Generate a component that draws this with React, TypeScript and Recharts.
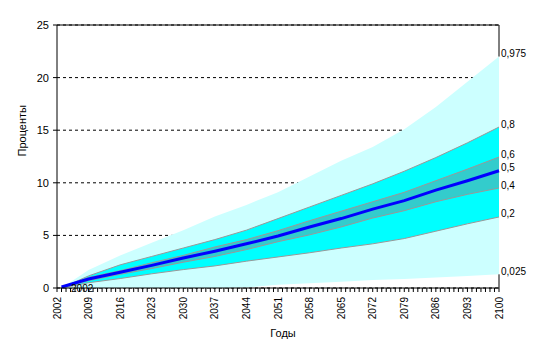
import React from "react";
import {
  ComposedChart,
  Area,
  Line,
  XAxis,
  YAxis,
  CartesianGrid,
  ReferenceLine,
  ReferenceDot,
} from "recharts";

// годы, на которые сняты значения квантилей
const years = [2003, 2009, 2016, 2023, 2030, 2037, 2044, 2051, 2058, 2065, 2072, 2079, 2086, 2093, 2100];

const q025 = [0, 0, 0, 0, 0, 0, 0.05, 0.3, 0.45, 0.6, 0.75, 0.85, 1.0, 1.15, 1.3];
const q20 = [0, 0.5, 0.9, 1.35, 1.75, 2.1, 2.55, 2.95, 3.35, 3.8, 4.2, 4.7, 5.4, 6.1, 6.75];
const q40 = [0, 0.7, 1.3, 1.85, 2.45, 3.0, 3.65, 4.4, 5.05, 5.8, 6.65, 7.35, 8.2, 8.9, 9.5];
const q50 = [0.1, 0.85, 1.5, 2.15, 2.85, 3.5, 4.2, 4.95, 5.8, 6.6, 7.5, 8.3, 9.3, 10.2, 11.15];
const q60 = [0, 1.0, 1.65, 2.4, 3.1, 3.9, 4.6, 5.45, 6.4, 7.3, 8.2, 9.1, 10.2, 11.3, 12.45];
const q80 = [0, 1.15, 2.2, 3.0, 3.8, 4.6, 5.5, 6.6, 7.7, 8.8, 9.9, 11.1, 12.4, 13.8, 15.3];
const q975 = [0, 1.7, 3.1, 4.3, 5.5, 6.8, 7.9, 9.1, 10.6, 12.1, 13.4, 15.1, 17.2, 19.6, 22.0];

const quantileNames = ["0,975", "0,8", "0,6", "0,5", "0,4", "0,2", "0,025"];
const yTicks = [0, 5, 10, 15, 20, 25];

const FIRST_YEAR = 2002;
const LAST_YEAR = 2100;
const Y_MAX = 25;
const allYears = Array.from({ length: LAST_YEAR - FIRST_YEAR + 1 }, (_, i) => FIRST_YEAR + i);

const data = years.map((year, i) => ({
  year,
  outer: [q025[i], q975[i]],
  mid: [q20[i], q80[i]],
  inner: [q40[i], q60[i]],
  median: q50[i],
}));

const last = years.length - 1;
const endValues = [q975[last], q80[last], q60[last], q50[last], q40[last], q20[last], q025[last]];

const FONT = "'Liberation Sans', Arial, sans-serif";

function YearTick({ x, y, payload }: any) {
  const year = payload.value;
  if ((year - FIRST_YEAR) % 7 !== 0) return null;
  return (
    <text
      x={x}
      y={y}
      transform={`rotate(-90, ${x}, ${y})`}
      textAnchor="end"
      dy="0.35em"
      fontSize={10}
      fontFamily={FONT}
      fill="#000"
    >
      {year}
    </text>
  );
}

function QuantileLabel({ viewBox, value }: any) {
  const { x, y } = viewBox;
  return (
    <text x={x + 2} y={y - 3} dy="0.35em" textAnchor="start" fontSize={10} fontFamily={FONT} fill="#000">
      {value}
    </text>
  );
}

export default function App() {
  return (
    <div style={{ position: "absolute", left: 0, top: 0, background: "#fff" }}>
      <ComposedChart
        width={552}
        height={360}
        data={data}
        margin={{ top: 25, right: 53, bottom: 30, left: 0 }}
      >
        <CartesianGrid vertical={false} stroke="#000" strokeDasharray="3 3" />
        <XAxis
          dataKey="year"
          type="number"
          domain={[FIRST_YEAR, LAST_YEAR]}
          ticks={allYears}
          interval={0}
          tick={<YearTick />}
          tickSize={4}
          tickMargin={5}
          height={42}
          stroke="#000"
          label={{ value: "Годы", position: "insideBottom", offset: -7, fontSize: 11, fontFamily: FONT, fill: "#000", dx: 5 }}
        />
        <YAxis
          domain={[0, Y_MAX]}
          ticks={yTicks}
          width={57}
          tickSize={4}
          tickMargin={4}
          stroke="#000"
          tick={{ fontSize: 11, fontFamily: FONT, fill: "#000" }}
          label={{ value: "Проценты", angle: -90, position: "insideLeft", offset: 22, fontSize: 11, fontFamily: FONT, fill: "#000" }}
        />
        <Area
          dataKey="outer"
          type="linear"
          fill="#CCFFFF"
          fillOpacity={1}
          stroke="none"
          isAnimationActive={false}
        />
        <Area
          dataKey="mid"
          type="linear"
          fill="#00FFFF"
          fillOpacity={1}
          stroke="#999999"
          strokeWidth={1}
          isAnimationActive={false}
        />
        <Area
          dataKey="inner"
          type="linear"
          fill="#33CCCC"
          fillOpacity={1}
          stroke="#999999"
          strokeWidth={1}
          isAnimationActive={false}
        />
        <Line
          dataKey="median"
          type="linear"
          stroke="#0000FF"
          strokeWidth={3}
          dot={false}
          isAnimationActive={false}
        />
        {/* рамка области построения: сверху и справа, не заходя на заливку */}
        <ReferenceLine y={Y_MAX} stroke="#000" />
        <ReferenceLine
          segment={[
            { x: LAST_YEAR, y: q975[last] },
            { x: LAST_YEAR, y: Y_MAX },
          ]}
          stroke="#000"
        />
        <ReferenceLine
          segment={[
            { x: LAST_YEAR, y: 0 },
            { x: LAST_YEAR, y: q025[last] },
          ]}
          stroke="#000"
        />
        {endValues.map((v, i) => (
          <ReferenceDot
            key={quantileNames[i]}
            x={LAST_YEAR}
            y={v}
            r={0}
            fill="none"
            stroke="none"
            ifOverflow="visible"
            label={<QuantileLabel value={quantileNames[i]} />}
          />
        ))}
        <ReferenceDot
          x={2004}
          y={0}
          r={0}
          fill="none"
          stroke="none"
          label={{ value: "2002", position: "right", fontSize: 10, fontFamily: FONT, fill: "#000" }}
        />
      </ComposedChart>
    </div>
  );
}
